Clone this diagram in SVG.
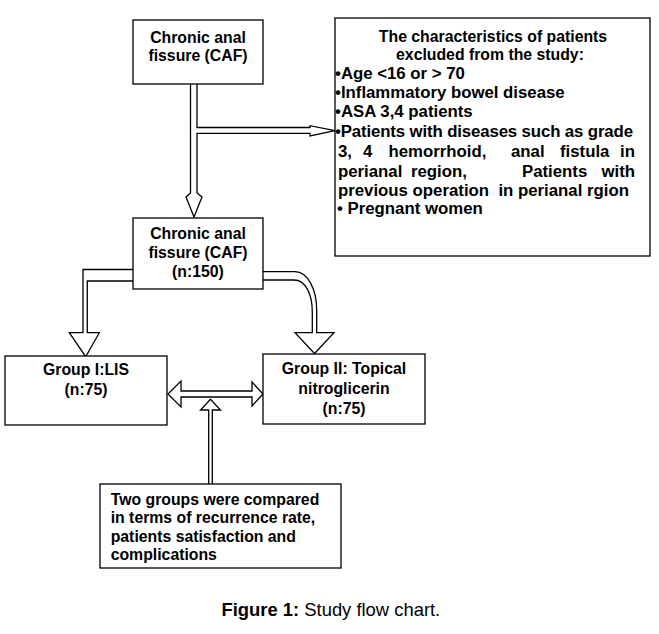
<svg xmlns="http://www.w3.org/2000/svg" width="659" height="634" viewBox="0 0 659 634">
<style>
.box{fill:#fff;stroke:#000;stroke-width:1.3}
.con{fill:#fff;stroke:#000;stroke-width:1.3;stroke-linejoin:miter}
.t{font-family:"Liberation Sans",Arial,sans-serif;font-weight:bold;font-size:15.8px;fill:#000}
.b{font-size:16.8px}
.c{text-anchor:middle}
.cap{font-family:"Liberation Sans",Arial,sans-serif;font-size:18.4px;fill:#000}
</style>
<rect width="659" height="634" fill="#fff"/>
<g id="connectors">
<path class="con" d="M190.5,84 V193 L186,197 L194,217 L202,197 L197,193 V133.3 H310 V136 L335,130.7 L310,125.7 V127.5 H197 V84"/>
<path class="con" d="M133,269.5 H83 V332.7 H69.3 L85.7,356.7 L99.3,332.7 H87.3 V281 H133"/>
<path class="con" d="M263,271.7 H295 C308,271.7 316.7,290 316.7,310 V332.7 H334 L314.5,353.5 L295,332.7 H312.3 V312 C312.3,295 306,280 294,280 H263"/>
<path class="con" d="M168,394 L181,381 V391 H252 V382 L263,394 L252,406 V397 H181 V407 Z"/>
<path class="con" d="M208.7,484 V410 H200.5 L210.5,399.3 L220.5,410 H212.3 V484"/>
</g>
<g id="node-caf">
<rect class="box" x="133" y="20" width="130" height="64"/>
<text class="t c" x="198" y="43">Chronic anal</text>
<text class="t c" x="198" y="61">fissure (CAF)</text>
</g>
<g id="node-excluded">
<rect class="box" x="335" y="18" width="315" height="238"/>
<text class="t c" x="493" y="42">The characteristics of patients</text>
<text class="t c" x="490" y="60">excluded from the study:</text>
<text class="t b" x="335" y="79">•Age &lt;16 or &gt; 70</text>
<text class="t b" x="335" y="97.5">•Inflammatory bowel disease</text>
<text class="t b" x="335" y="117">•ASA 3,4 patients</text>
<text class="t b" x="335" y="137" textLength="298" lengthAdjust="spacing">•Patients with diseases such as grade</text>
<text class="t b" y="157"><tspan x="338">3,</tspan><tspan x="363">4</tspan><tspan x="388.5">hemorrhoid,</tspan><tspan x="511">anal</tspan><tspan x="560">fistula</tspan></text>
<text class="t b" x="635" y="157" text-anchor="end">in</text>
<text class="t b" y="176.5"><tspan x="338">perianal</tspan><tspan x="411">region,</tspan><tspan x="522">Patients</tspan></text>
<text class="t b" x="635" y="176.5" text-anchor="end">with</text>
<text class="t b" x="338" y="195.5" xml:space="preserve">previous operation  in perianal rgion</text>
<text class="t b" x="337" y="214">• Pregnant women</text>
</g>
<g id="node-caf150">
<rect class="box" x="133" y="218" width="130" height="71"/>
<text class="t c" x="198" y="239">Chronic anal</text>
<text class="t c" x="198" y="257.5">fissure (CAF)</text>
<text class="t c" x="198" y="276.5">(n:150)</text>
</g>
<g id="node-group1">
<rect class="box" x="5" y="356" width="162" height="69"/>
<text class="t c" x="86" y="375">Group I:LIS</text>
<text class="t c" x="86" y="395">(n:75)</text>
</g>
<g id="node-group2">
<rect class="box" x="263" y="354" width="162" height="70"/>
<text class="t c" x="344" y="373.5">Group II: Topical</text>
<text class="t c" x="344" y="394">nitroglicerin</text>
<text class="t c" x="344" y="413.5">(n:75)</text>
</g>
<g id="node-compared">
<rect class="box" x="100" y="484" width="241" height="84"/>
<text class="t" x="110.7" y="505">Two groups were compared</text>
<text class="t" x="110.7" y="523.3">in terms of recurrence rate,</text>
<text class="t" x="110.7" y="541.7">patients satisfaction and</text>
<text class="t" x="110.7" y="560">complications</text>
</g>
<text class="cap" x="221.5" y="616"><tspan font-weight="bold">Figure 1:</tspan> Study flow chart.</text>
</svg>
